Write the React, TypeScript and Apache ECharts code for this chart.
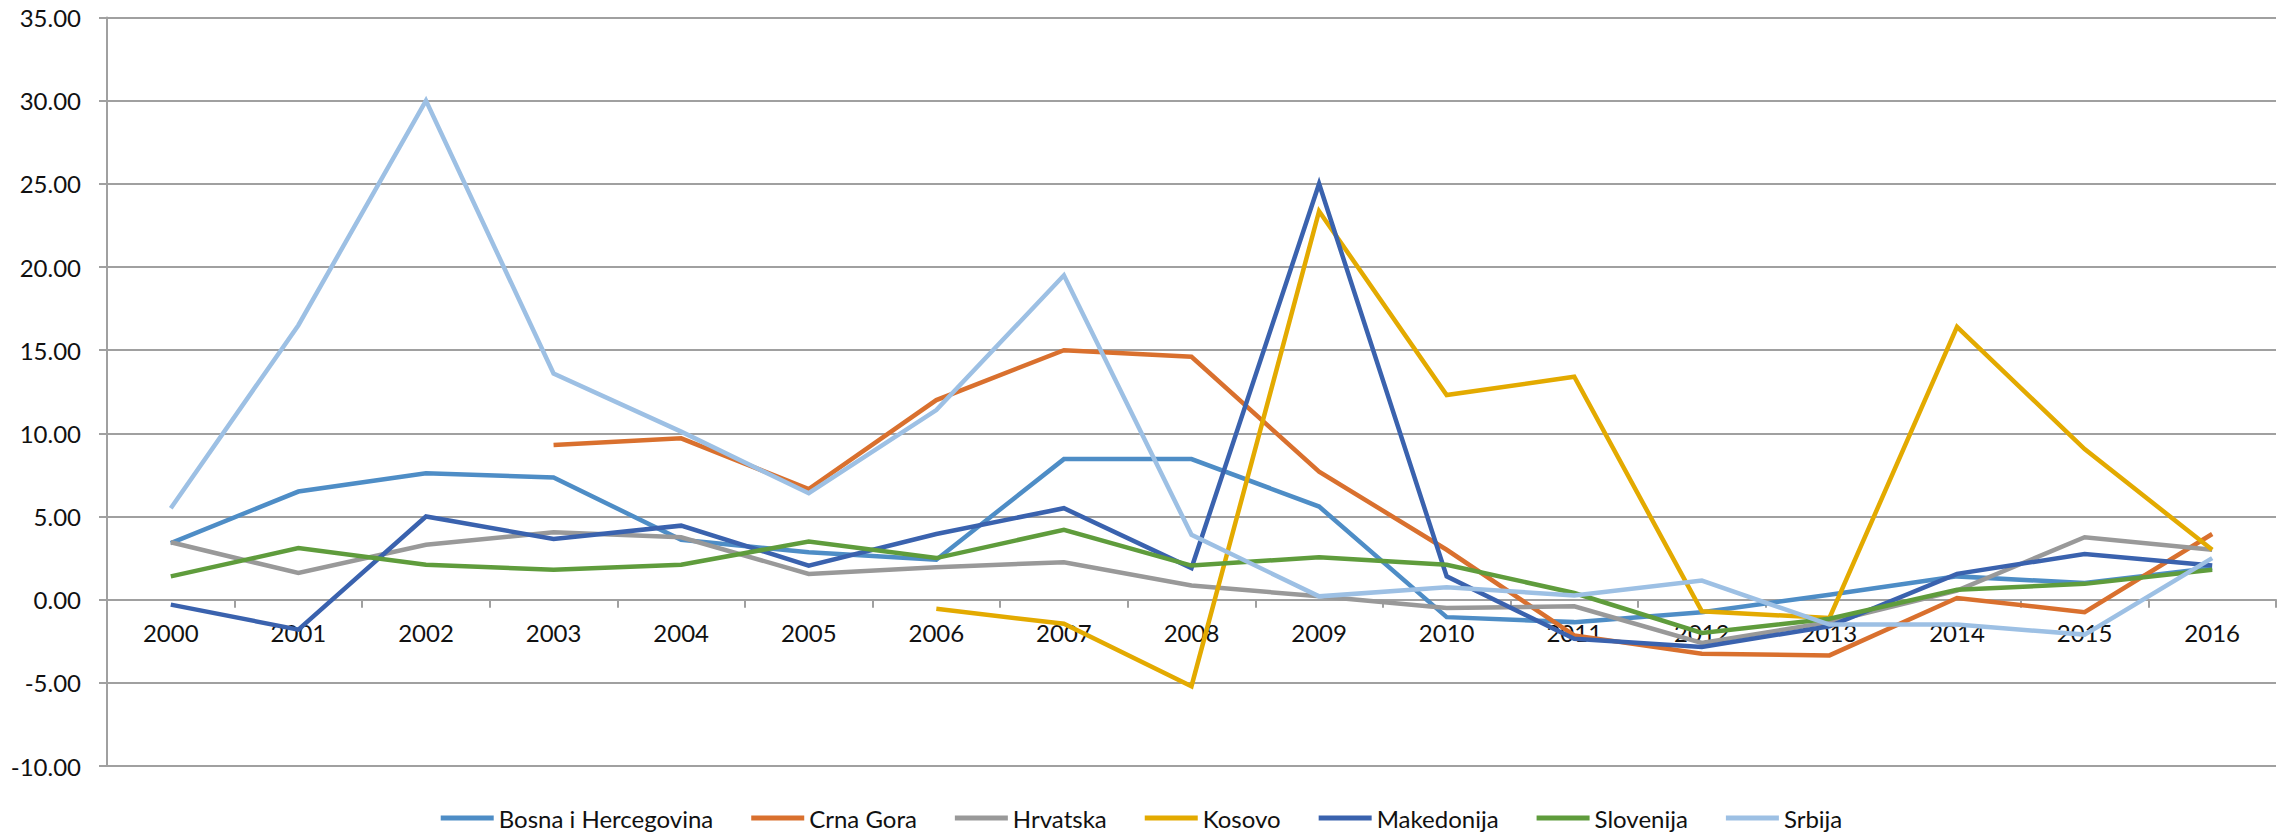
import React, { useEffect, useRef } from "react";
import * as echarts from "echarts";

const years = ["2000","2001","2002","2003","2004","2005","2006","2007","2008","2009","2010","2011","2012","2013","2014","2015","2016"];

const bosna = [3.4, 6.5, 7.6, 7.35, 3.6, 2.85, 2.4, 8.45, 8.45, 5.6, -1.05, -1.35, -0.75, 0.3, 1.4, 1.0, 1.9];
const crnaGora = [null, null, null, 9.3, 9.7, 6.65, 12.0, 15.0, 14.6, 7.7, 3.0, -2.15, -3.25, -3.35, 0.1, -0.75, 3.95];
const hrvatska = [3.45, 1.6, 3.3, 4.05, 3.75, 1.55, 1.95, 2.25, 0.85, 0.2, -0.5, -0.4, -2.6, -1.35, 0.55, 3.75, 3.0];
const kosovo = [null, null, null, null, null, null, -0.55, -1.45, -5.2, 23.35, 12.3, 13.4, -0.7, -1.1, 16.4, 9.05, 3.0];
const makedonija = [-0.3, -1.8, 5.0, 3.65, 4.45, 2.05, 3.95, 5.5, 1.9, 25.0, 1.4, -2.35, -2.85, -1.6, 1.55, 2.75, 2.05];
const slovenija = [1.4, 3.1, 2.1, 1.8, 2.1, 3.5, 2.5, 4.2, 2.05, 2.55, 2.1, 0.4, -2.0, -1.15, 0.6, 0.95, 1.8];
const srbija = [5.5, 16.5, 30.0, 13.6, 10.1, 6.4, 11.4, 19.5, 3.9, 0.2, 0.75, 0.25, 1.15, -1.5, -1.5, -2.1, 2.5];

const seriesNames = ["Bosna i Hercegovina", "Crna Gora", "Hrvatska", "Kosovo", "Makedonija", "Slovenija", "Srbija"];
const seriesData = [bosna, crnaGora, hrvatska, kosovo, makedonija, slovenija, srbija];
const seriesColors = ["#4e8dc6", "#d9702e", "#999999", "#e3aa00", "#3a62ae", "#5f9c3c", "#9dc0e4"];

const yTicks = { min: -10, max: 35, interval: 5 };

export default function App() {
  const ref = useRef<HTMLDivElement>(null);
  useEffect(() => {
    if (!ref.current) return;
    const chart = echarts.init(ref.current, null, { renderer: "svg" });
    const font = "Lato, 'Noto Sans', sans-serif";
    const gray = "#a0a0a0";
    chart.setOption({
      animation: false,
      backgroundColor: "#ffffff",
      textStyle: { fontFamily: font },
      grid: { left: 107, right: 7, top: 17.5, bottom: 70, containLabel: false },
      legend: {
        top: 801,
        left: "center",
        icon: "rect",
        itemWidth: 53,
        itemHeight: 5,
        itemGap: 38,
        textStyle: { fontSize: 24, color: "#111111", fontFamily: font },
        data: seriesNames,
      },
      xAxis: {
        type: "category",
        data: years,
        boundaryGap: true,
        axisLine: { show: true, onZero: false, lineStyle: { color: gray, width: 2 } },
        axisTick: { show: true, length: 8, lineStyle: { color: gray, width: 2 } },
        axisLabel: { fontSize: 24, color: "#111111", margin: 21, fontFamily: font },
        splitLine: { show: false },
      },
      yAxis: {
        type: "value",
        min: yTicks.min,
        max: yTicks.max,
        interval: yTicks.interval,
        axisLine: { show: true, lineStyle: { color: gray, width: 2 } },
        axisTick: { show: true, length: 8, lineStyle: { color: gray, width: 2 } },
        axisLabel: {
          fontSize: 24,
          color: "#111111",
          margin: 26,
          fontFamily: font,
          formatter: (v: number) => v.toFixed(2),
        },
        splitLine: { show: true, lineStyle: { color: gray, width: 2 } },
      },
      series: seriesNames.map((name, i) => ({
        name,
        type: "line",
        data: seriesData[i],
        showSymbol: false,
        symbol: "none",
        connectNulls: false,
        lineStyle: { color: seriesColors[i], width: 4.5, join: "miter" },
        itemStyle: { color: seriesColors[i] },
      })),
    });
    const zeroY = chart.convertToPixel({ yAxisIndex: 0 }, 0) as number;
    const bottomY = chart.convertToPixel({ yAxisIndex: 0 }, yTicks.min) as number;
    chart.setOption({ xAxis: { offset: -(bottomY - zeroY) } });
    return () => chart.dispose();
  }, []);
  return (
    <div
      ref={ref}
      style={{ position: "fixed", left: 0, top: 0, width: 2283, height: 836, background: "#fff" }}
    />
  );
}
